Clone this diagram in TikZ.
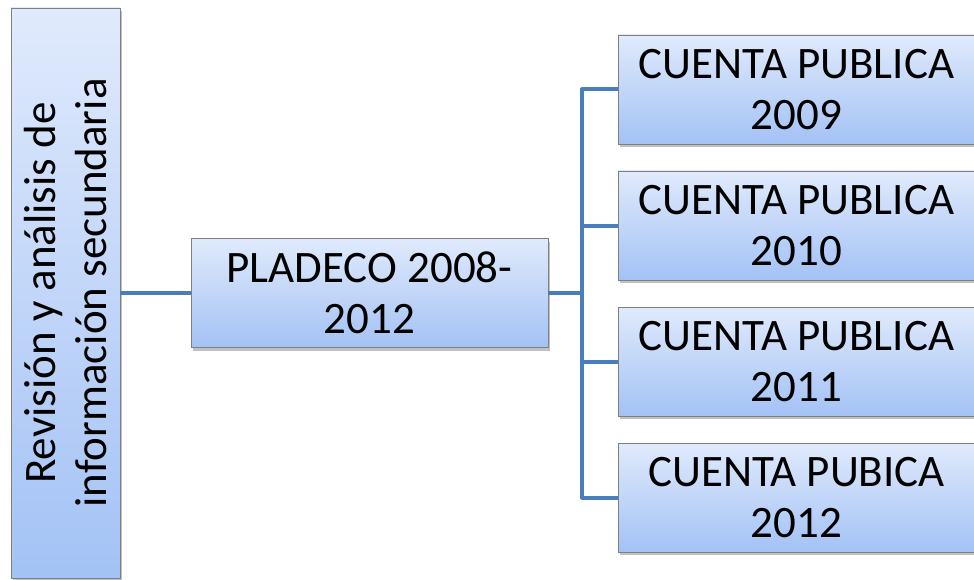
\documentclass[tikz,border=0pt]{standalone}
\usepackage{fontspec}
\setmainfont{Carlito}
\usetikzlibrary{shadows,shadings}
\definecolor{boxtop}{RGB}{224,234,252}
\definecolor{boxbot}{RGB}{163,194,245}
\definecolor{boxline}{RGB}{128,128,128}
\definecolor{conn}{RGB}{74,126,187}
\tikzset{
  x=1pt, y=-1pt,
  bigtext/.style={font=\fontsize{45}{51}\selectfont},
  card/.style={draw=boxline, line width=0.8pt, top color=boxtop, bottom color=boxbot,
    minimum height=109pt, inner sep=0pt, align=center, bigtext,
    drop shadow={shadow xshift=2pt, shadow yshift=-3pt, opacity=0.35, fill=black!70}},
  link/.style={draw=conn, line width=4pt, line join=round}
}
\begin{document}
\begin{tikzpicture}
\useasboundingbox (0,0) rectangle (974,580);
\node[card, minimum width=109pt, minimum height=570pt] (L) at (65.5,293) {};
\node[rotate=90, align=center, bigtext] (Lt) at (L.center) {Revisión y análisis de\\información secundaria};
\node[card, minimum width=357pt] (P) at (369.5,293) {PLADECO 2008-\\2012};
\node[card, minimum width=357pt] (C1) at (796.5,89.5) {CUENTA PUBLICA\\2009};
\node[card, minimum width=357pt] (C2) at (796.5,225.5) {CUENTA PUBLICA\\2010};
\node[card, minimum width=357pt] (C3) at (796.5,361.5) {CUENTA PUBLICA\\2011};
\node[card, minimum width=357pt] (C4) at (796.5,497.5) {CUENTA PUBICA\\2012};
\coordinate (J) at (582,293);
\draw[link] (L.east) -- (P.west);
\draw[link] (P.east) -- (J);
\draw[link] (C1.west) -| (J) |- (C4.west);
\draw[link] (J) |- (C2.west);
\draw[link] (J) |- (C3.west);
\end{tikzpicture}
\end{document}
